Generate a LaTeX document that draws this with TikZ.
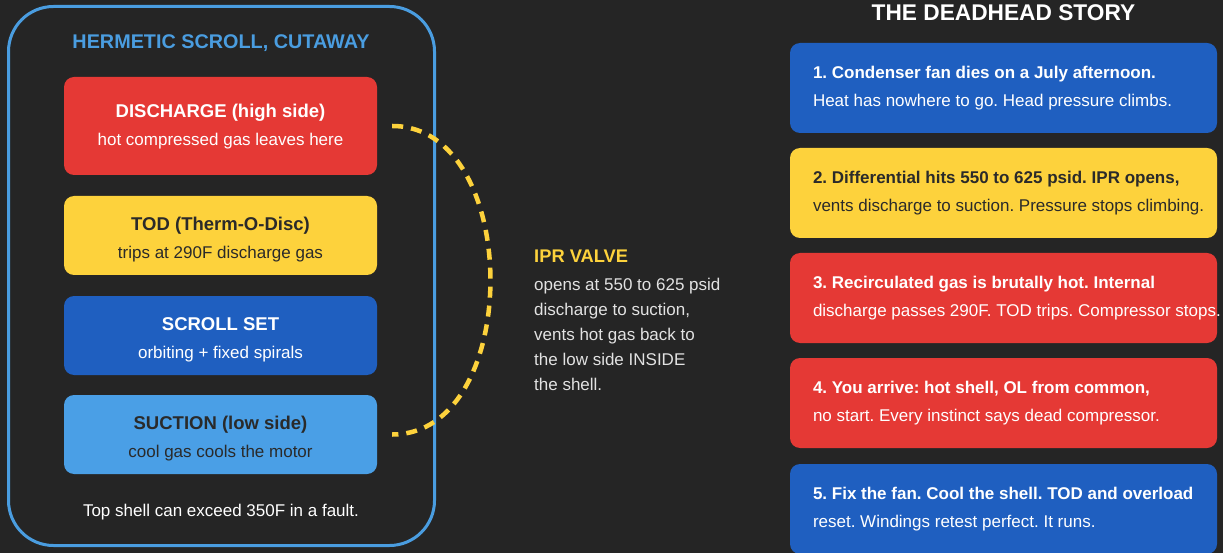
\documentclass[tikz,border=0pt]{standalone}
\usepackage{fontspec}
\setmainfont{Liberation Sans}
\usepackage{xcolor}
\usepackage{tikz}
\usetikzlibrary{positioning}
\frenchspacing
\definecolor{bgdark}{HTML}{252525}
\definecolor{shellblue}{HTML}{4A9DE0}
\definecolor{partred}{HTML}{E53935}
\definecolor{partyellow}{HTML}{FDD23C}
\definecolor{partblue}{HTML}{1F5FC0}
\definecolor{partlight}{HTML}{4A9FE6}
\definecolor{darktext}{HTML}{2A2A2A}
\definecolor{softtext}{HTML}{E2E2E2}
\tikzset{
	part/.style={rounded corners=10pt, minimum width=313pt, inner sep=0pt},
	parttext/.style={align=center, inner sep=0pt, font=\fontsize{17}{28}\selectfont},
	storybox/.style={rounded corners=10pt, minimum width=427pt,
		minimum height=90pt, inner sep=0pt},
	storytext/.style={anchor=west, align=left, inner sep=0pt,
		font=\fontsize{17}{28}\selectfont},
	iprline/.style={draw=partyellow, line width=4.5pt, dash pattern=on 11pt off 8pt}
}

\begin{document}
\begin{tikzpicture}[x=1pt,y=-1pt]
% background
	\fill[bgdark] (0,0) rectangle (1223,553);
	\useasboundingbox (0,0) rectangle (1223,553);

% compressor shell
	\node[draw=shellblue,
		line width=3pt,
		rounded corners=45pt,
		minimum width=426pt,
		minimum height=539pt,
		inner sep=0pt] (shell) at (221.5,276) {};
	\node[anchor=base, text=shellblue, inner sep=0pt,
		font=\fontsize{19.8}{22}\selectfont\bfseries] (shelltitle) at (221,48.8) {HERMETIC SCROLL, CUTAWAY};

% parts inside the shell
	\node[part, fill=partred, minimum height=98pt] (dis) at (220.5,126) {};
	\node[parttext, text=white] (distxt) at ([yshift=-1pt]dis.center)
		{{\fontsize{18.5}{28}\selectfont\bfseries DISCHARGE (high side)}\\hot compressed gas leaves here};
	\node[part, fill=partyellow, minimum height=79pt] (tod) at (220.5,235.5) {};
	\node[parttext, text=darktext] (todtxt) at ([yshift=-4.5pt]tod.center)
		{{\fontsize{18.5}{28}\selectfont\bfseries TOD (Therm-O-Disc)}\\trips at 290F discharge gas};
	\node[part, fill=partblue, minimum height=79pt] (scroll) at (220.5,335.5) {};
	\node[parttext, text=white] (scrolltxt) at ([yshift=-4pt]scroll.center)
		{{\fontsize{18.5}{28}\selectfont\bfseries SCROLL SET}\\orbiting + fixed spirals};
	\node[part, fill=partlight, minimum height=79pt] (suc) at (220.5,434.5) {};
	\node[parttext, text=darktext] (suctxt) at ([yshift=-4.5pt]suc.center)
		{{\fontsize{18.5}{28}\selectfont\bfseries SUCTION (low side)}\\cool gas cools the motor};
	\node[anchor=base, text=white, inner sep=0pt,
		font=\fontsize{17}{20}\selectfont] (shellnote) at (221,516) {Top shell can exceed 350F in a fault.};

% IPR valve path
	\draw[iprline] ([xshift=15pt]dis.east) .. controls +(131,0) and +(131,0) .. ([xshift=15pt]suc.east);
	\node[anchor=base west, text=partyellow, inner sep=0pt,
		font=\fontsize{18.3}{20}\selectfont\bfseries] (ipr) at (534,262) {IPR VALVE};
	\node[anchor=north west, align=left, text=softtext, inner sep=0pt,
		font=\fontsize{17}{25}\selectfont] (iprtxt) at (534,277.6)
		{opens at 550 to 625 psid\\discharge to suction,\\vents hot gas back to\\the low side INSIDE\\the shell.};

% story column
	\node[anchor=base, text=white, inner sep=0pt,
		font=\fontsize{22.7}{24}\selectfont\bfseries] (storytitle) at (1003.5,20.5) {THE DEADHEAD STORY};

	\node[storybox, fill=partblue] (s1) at (1003.5,88) {};
	\node[storytext, text=white] (s1txt) at ([xshift=23pt]s1.west)
		{{\bfseries 1. Condenser fan dies on a July afternoon.}\\Heat has nowhere to go. Head pressure climbs.};

	\node[storybox, fill=partyellow] (s2) at (1003.5,193) {};
	\node[storytext, text=darktext] (s2txt) at ([xshift=23pt]s2.west)
		{{\bfseries 2. Differential hits 550 to 625 psid. IPR opens,}\\vents discharge to suction. Pressure stops climbing.};

	\node[storybox, fill=partred] (s3) at (1003.5,298) {};
	\node[storytext, text=white] (s3txt) at ([xshift=23pt]s3.west)
		{{\bfseries 3. Recirculated gas is brutally hot. Internal}\\discharge passes 290F. TOD trips. Compressor stops.};

	\node[storybox, fill=partred] (s4) at (1003.5,403) {};
	\node[storytext, text=white] (s4txt) at ([xshift=23pt]s4.west)
		{{\bfseries 4. You arrive: hot shell, OL from common,}\\no start. Every instinct says dead compressor.};

	\node[storybox, fill=partblue] (s5) at (1003.5,509) {};
	\node[storytext, text=white] (s5txt) at ([xshift=23pt]s5.west)
		{{\bfseries 5. Fix the fan. Cool the shell. TOD and overload}\\reset. Windings retest perfect. It runs.};
\end{tikzpicture}
\end{document}
